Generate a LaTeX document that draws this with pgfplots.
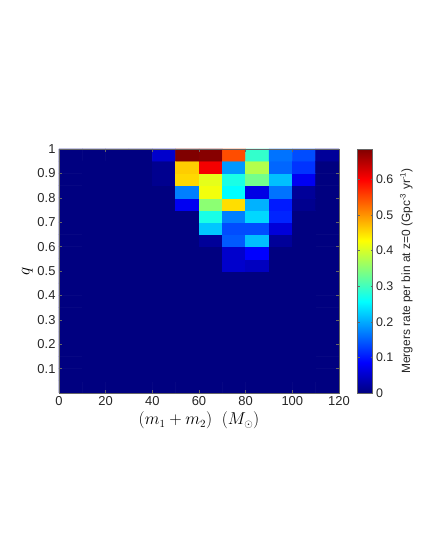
\documentclass[border=0pt]{standalone}
\usepackage{fontspec}
\setmainfont{Liberation Sans}
\usepackage{pgfplots}
\pgfplotsset{compat=1.18}
\begin{document}
\begin{tikzpicture}
\useasboundingbox (-59bp,-166bp) rectangle (373bp,393bp);
\begin{axis}[
  at={(0,0)}, anchor=south west,
  scale only axis, width=280bp, height=244bp,
  xmin=0, xmax=120, ymin=0, ymax=1,
  xtick={0,20,...,120}, ytick={0.1,0.2,...,1.0},
  yticklabels={0.1,0.2,0.3,0.4,0.5,0.6,0.7,0.8,0.9,1},
  tick align=inside, major tick length=3bp,
  tick style={color=black!60, line width=0.4pt},
  axis line style={black!60, line width=0.5pt},
  axis on top,
  ticklabel style={font=\fontsize{13}{15}\selectfont, text=black!85},
  /pgf/number format/assume math mode=true,
  xlabel={\fontsize{16}{18}\selectfont$(m_1+m_2)\;\;(M_\odot)$},
  ylabel={\fontsize{16}{18}\selectfont$q$},
  xlabel style={yshift=1bp},
  ylabel style={yshift=-2bp},
  colormap/jet,
  point meta min=0, point meta max=0.685,
  colorbar,
  colorbar style={
    at={(parent axis.north east)}, anchor=north west, xshift=10bp,
    width=15bp, height=244bp,
    ytick={0,0.1,...,0.6},
    yticklabels={0,0.1,0.2,0.3,0.4,0.5,0.6},
    tick align=inside, major tick length=2bp,
    tick style={color=black!60},
    axis line style={black!60},
    ticklabel style={font=\fontsize{12.5}{14}\selectfont, text=black!85},
    ylabel={\fontsize{12}{14}\selectfont Mergers rate per bin at z=0 (Gpc\textsuperscript{-3} yr\textsuperscript{-1})},
    ylabel style={text=black!85},
  },
]
\addplot[matrix plot*, mesh/cols=12, point meta=explicit] coordinates {
(5,0.025)[0] (15,0.025)[0] (25,0.025)[0] (35,0.025)[0] (45,0.025)[0] (55,0.025)[0] (65,0.025)[0] (75,0.025)[0] (85,0.025)[0] (95,0.025)[0] (105,0.025)[0] (115,0.025)[0]

(5,0.075)[0] (15,0.075)[0] (25,0.075)[0] (35,0.075)[0] (45,0.075)[0] (55,0.075)[0] (65,0.075)[0] (75,0.075)[0] (85,0.075)[0] (95,0.075)[0] (105,0.075)[0] (115,0.075)[0]

(5,0.125)[0] (15,0.125)[0] (25,0.125)[0] (35,0.125)[0] (45,0.125)[0] (55,0.125)[0] (65,0.125)[0] (75,0.125)[0] (85,0.125)[0] (95,0.125)[0] (105,0.125)[0] (115,0.125)[0]

(5,0.175)[0] (15,0.175)[0] (25,0.175)[0] (35,0.175)[0] (45,0.175)[0] (55,0.175)[0] (65,0.175)[0] (75,0.175)[0] (85,0.175)[0] (95,0.175)[0] (105,0.175)[0] (115,0.175)[0]

(5,0.225)[0] (15,0.225)[0] (25,0.225)[0] (35,0.225)[0] (45,0.225)[0] (55,0.225)[0] (65,0.225)[0] (75,0.225)[0] (85,0.225)[0] (95,0.225)[0] (105,0.225)[0] (115,0.225)[0]

(5,0.275)[0] (15,0.275)[0] (25,0.275)[0] (35,0.275)[0] (45,0.275)[0] (55,0.275)[0] (65,0.275)[0] (75,0.275)[0] (85,0.275)[0] (95,0.275)[0] (105,0.275)[0] (115,0.275)[0]

(5,0.325)[0] (15,0.325)[0] (25,0.325)[0] (35,0.325)[0] (45,0.325)[0] (55,0.325)[0] (65,0.325)[0] (75,0.325)[0] (85,0.325)[0] (95,0.325)[0] (105,0.325)[0] (115,0.325)[0]

(5,0.375)[0] (15,0.375)[0] (25,0.375)[0] (35,0.375)[0] (45,0.375)[0] (55,0.375)[0] (65,0.375)[0] (75,0.375)[0] (85,0.375)[0] (95,0.375)[0] (105,0.375)[0] (115,0.375)[0]

(5,0.425)[0] (15,0.425)[0] (25,0.425)[0] (35,0.425)[0] (45,0.425)[0] (55,0.425)[0] (65,0.425)[0] (75,0.425)[0] (85,0.425)[0] (95,0.425)[0] (105,0.425)[0] (115,0.425)[0]

(5,0.475)[0] (15,0.475)[0] (25,0.475)[0] (35,0.475)[0] (45,0.475)[0] (55,0.475)[0] (65,0.475)[0] (75,0.475)[0] (85,0.475)[0] (95,0.475)[0] (105,0.475)[0] (115,0.475)[0]

(5,0.525)[0] (15,0.525)[0] (25,0.525)[0] (35,0.525)[0] (45,0.525)[0] (55,0.525)[0] (65,0.525)[0] (75,0.525)[0.051] (85,0.525)[0.043] (95,0.525)[0] (105,0.525)[0] (115,0.525)[0]

(5,0.575)[0] (15,0.575)[0] (25,0.575)[0] (35,0.575)[0] (45,0.575)[0] (55,0.575)[0] (65,0.575)[0] (75,0.575)[0.051] (85,0.575)[0.085] (95,0.575)[0] (105,0.575)[0] (115,0.575)[0]

(5,0.625)[0] (15,0.625)[0] (25,0.625)[0] (35,0.625)[0] (45,0.625)[0] (55,0.625)[0] (65,0.625)[0.017] (75,0.625)[0.146] (85,0.625)[0.214] (95,0.625)[0.017] (105,0.625)[0] (115,0.625)[0]

(5,0.675)[0] (15,0.675)[0] (25,0.675)[0] (35,0.675)[0] (45,0.675)[0] (55,0.675)[0] (65,0.675)[0.219] (75,0.675)[0.137] (85,0.675)[0.137] (95,0.675)[0.06] (105,0.675)[0] (115,0.675)[0]

(5,0.725)[0] (15,0.725)[0] (25,0.725)[0] (35,0.725)[0] (45,0.725)[0] (55,0.725)[0] (65,0.725)[0.274] (75,0.725)[0.171] (85,0.725)[0.231] (95,0.725)[0.11] (105,0.725)[0] (115,0.725)[0]

(5,0.775)[0] (15,0.775)[0] (25,0.775)[0] (35,0.775)[0] (45,0.775)[0] (55,0.775)[0.077] (65,0.775)[0.351] (75,0.775)[0.45] (85,0.775)[0.205] (95,0.775)[0.103] (105,0.775)[0.01] (115,0.775)[0]

(5,0.825)[0] (15,0.825)[0] (25,0.825)[0] (35,0.825)[0] (45,0.825)[0] (55,0.825)[0.171] (65,0.825)[0.42] (75,0.825)[0.257] (85,0.825)[0.068] (95,0.825)[0.163] (105,0.825)[0.017] (115,0.825)[0]

(5,0.875)[0] (15,0.875)[0] (25,0.875)[0] (35,0.875)[0] (45,0.875)[0.01] (55,0.875)[0.454] (65,0.875)[0.411] (75,0.875)[0.274] (85,0.875)[0.334] (95,0.875)[0.214] (105,0.875)[0.077] (115,0.875)[0]

(5,0.925)[0] (15,0.925)[0] (25,0.925)[0] (35,0.925)[0] (45,0.925)[0.01] (55,0.925)[0.462] (65,0.925)[0.606] (75,0.925)[0.188] (85,0.925)[0.377] (95,0.925)[0.154] (105,0.925)[0.12] (115,0.925)[0]

(5,0.975)[0] (15,0.975)[0] (25,0.975)[0] (35,0.975)[0] (45,0.975)[0.051] (55,0.975)[0.685] (65,0.975)[0.68] (75,0.975)[0.548] (85,0.975)[0.291] (95,0.975)[0.163] (105,0.975)[0.137] (115,0.975)[0.017]
};
\end{axis}
\end{tikzpicture}
\end{document}
